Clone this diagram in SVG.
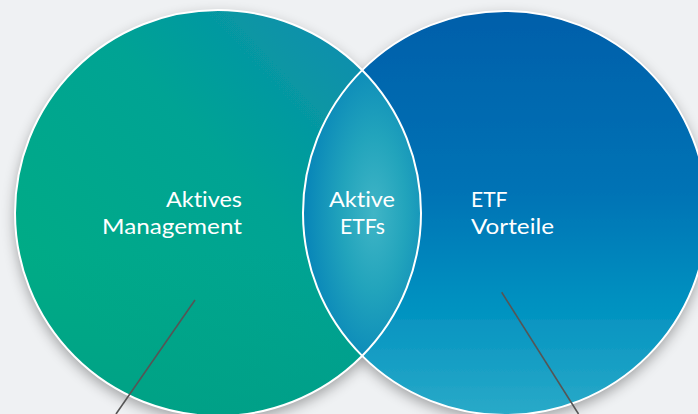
<svg xmlns="http://www.w3.org/2000/svg" width="698" height="414" viewBox="0 0 698 414">
  <style>
    .lbl { font-family: Lato, "Liberation Sans", sans-serif; font-size: 21.5px; fill: #ffffff; font-variant-ligatures: none; font-feature-settings: "liga" 0, "clig" 0; }
    .ring { fill: none; stroke: #ffffff; stroke-width: 2; }
    .conn { stroke: #555555; stroke-width: 1.6; fill: none; }
  </style>
  <defs>
    <linearGradient id="gLeft" x1="0.85" y1="0.1" x2="0.15" y2="0.75">
      <stop offset="0" stop-color="#0b8eae"/>
      <stop offset="0.45" stop-color="#01a394"/>
      <stop offset="1" stop-color="#00ab86"/>
    </linearGradient>
    <linearGradient id="gLeftBottom" x1="0" y1="0" x2="0" y2="1">
      <stop offset="0.6" stop-color="#009a86" stop-opacity="0"/>
      <stop offset="1" stop-color="#009a86" stop-opacity="0.6"/>
    </linearGradient>
    <linearGradient id="gRight" x1="0" y1="0" x2="0" y2="1">
      <stop offset="0" stop-color="#005faa"/>
      <stop offset="0.45" stop-color="#0073b5"/>
      <stop offset="0.72" stop-color="#0091c0"/>
      <stop offset="1" stop-color="#2aaac8"/>
    </linearGradient>
    <radialGradient id="gLens" cx="0.6" cy="0.5" r="0.6">
      <stop offset="0" stop-color="#40b5c6"/>
      <stop offset="0.45" stop-color="#22a4bc"/>
      <stop offset="1" stop-color="#0684b8"/>
    </radialGradient>
    <filter id="shadow" x="-10%" y="-10%" width="120%" height="130%">
      <feGaussianBlur in="SourceAlpha" stdDeviation="7"/>
      <feOffset dx="0" dy="5" result="b"/>
      <feComponentTransfer><feFuncA type="linear" slope="0.35"/></feComponentTransfer>
      <feMerge><feMergeNode/><feMergeNode in="SourceGraphic"/></feMerge>
    </filter>
  </defs>

  <rect x="0" y="0" width="698" height="414" fill="#eff1f3"/>

  <g filter="url(#shadow)">
    <g id="node-left">
      <circle cx="218" cy="213" r="203" fill="url(#gLeft)"/>
      <circle cx="218" cy="213" r="203" fill="url(#gLeftBottom)"/>
    </g>
    <g id="node-right">
      <circle cx="505" cy="213" r="202" fill="url(#gRight)"/>
    </g>
  </g>

  <g id="node-overlap">
    <path d="M362.2,70.1 A202,202 0 0 0 362.2,355.9 A203,203 0 0 0 362.2,70.1 Z" fill="url(#gLens)"/>
  </g>

  <circle class="ring" cx="218" cy="213" r="203"/>
  <circle class="ring" cx="505" cy="213" r="202"/>

  <g id="labels">
    <text class="lbl" x="242" y="207" text-anchor="end" textLength="76" lengthAdjust="spacingAndGlyphs">Aktives</text>
    <text class="lbl" x="242" y="234" text-anchor="end" textLength="140" lengthAdjust="spacingAndGlyphs">Management</text>
    <text class="lbl" x="362" y="207" text-anchor="middle" textLength="66" lengthAdjust="spacingAndGlyphs">Aktive</text>
    <text class="lbl" x="362.5" y="234" text-anchor="middle" textLength="45" lengthAdjust="spacingAndGlyphs">ETFs</text>
    <text class="lbl" x="471" y="207" textLength="36.5" lengthAdjust="spacingAndGlyphs">ETF</text>
    <text class="lbl" x="471" y="234" textLength="83" lengthAdjust="spacingAndGlyphs">Vorteile</text>
  </g>

  <g id="connectors">
    <line class="conn" x1="195" y1="300" x2="116" y2="414"/>
    <line class="conn" x1="501.7" y1="292.3" x2="578.5" y2="414"/>
  </g>
</svg>
